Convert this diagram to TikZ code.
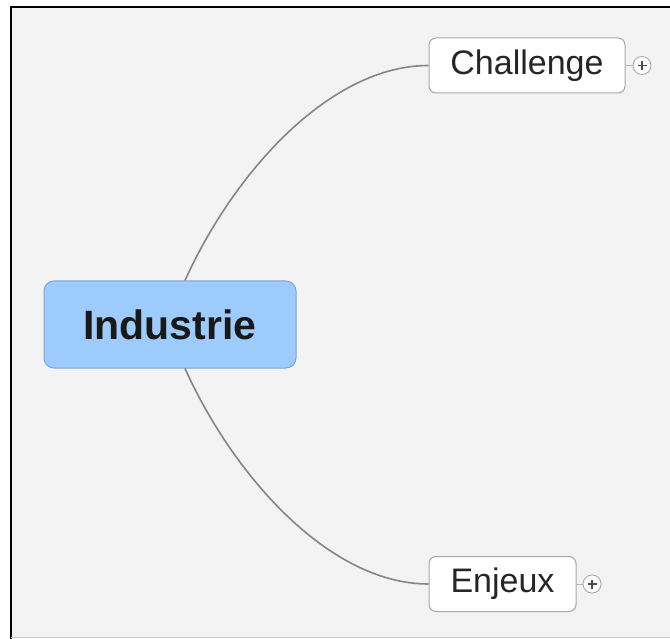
\documentclass[tikz,border=0pt]{standalone}
\usepackage{fontspec}
\setmainfont{Liberation Sans}
\definecolor{bgc}{HTML}{F3F3F3}
\definecolor{rootfill}{HTML}{9DCBFB}
\definecolor{rootdraw}{HTML}{7FA6CC}
\definecolor{topicdraw}{HTML}{A8A8A8}
\definecolor{linec}{HTML}{858585}
\begin{document}
\begin{tikzpicture}[x=1pt,y=-1pt,
  rootbox/.style={draw=rootdraw,fill=rootfill,rounded corners=10pt,line width=1pt,minimum width=252pt,minimum height=87pt,inner sep=0pt,font=\fontsize{41}{41}\selectfont\bfseries,text=black!90},
  topicbox/.style={draw=topicdraw,fill=white,rounded corners=7pt,line width=1pt,minimum height=55pt,inner sep=0pt,font=\fontsize{34}{34}\selectfont,text=black!85},
  plusc/.style={circle,draw=gray!70,fill=white,line width=0.8pt,minimum size=18pt,inner sep=0pt},
  conn/.style={draw=linec,line width=1.6pt}]
\useasboundingbox (0,0) rectangle (670,639);
\fill[white] (0,0) rectangle (670,639);
\fill[bgc] (11,7) rectangle (670,637);
\draw[black,line width=2pt] (11,639) -- (11,7) -- (670,7);
\draw[gray!40,line width=1pt] (11,637.5) -- (670,637.5);
\node[rootbox] (root) at (170,324.5) {Industrie};
\node[topicbox,minimum width=196pt] (ch) at (527,65.5) {Challenge};
\node[topicbox,minimum width=147pt] (en) at (502.5,584) {Enjeux};
\node[plusc] (chp) at (642,65.5) {};
\node[plusc] (enp) at (592,584) {};
\foreach \p in {chp,enp}{
  \draw[black!70,line width=1.3pt] ([xshift=-4.5pt]\p.center) -- ([xshift=4.5pt]\p.center);
  \draw[black!70,line width=1.3pt] ([yshift=-4.5pt]\p.center) -- ([yshift=4.5pt]\p.center);
}
\coordinate (rt) at ([xshift=15pt]root.north);
\coordinate (rb) at ([xshift=15pt]root.south);
\draw[conn] (rt) .. controls (234,172) and (330,65.5) .. (ch.west);
\draw[conn] (rb) .. controls (234,477) and (330,584) .. (en.west);
\draw[draw=gray!60,line width=0.8pt] (ch.east) -- (chp.west);
\draw[draw=gray!60,line width=0.8pt] (en.east) -- (enp.west);
\end{tikzpicture}
\end{document}
